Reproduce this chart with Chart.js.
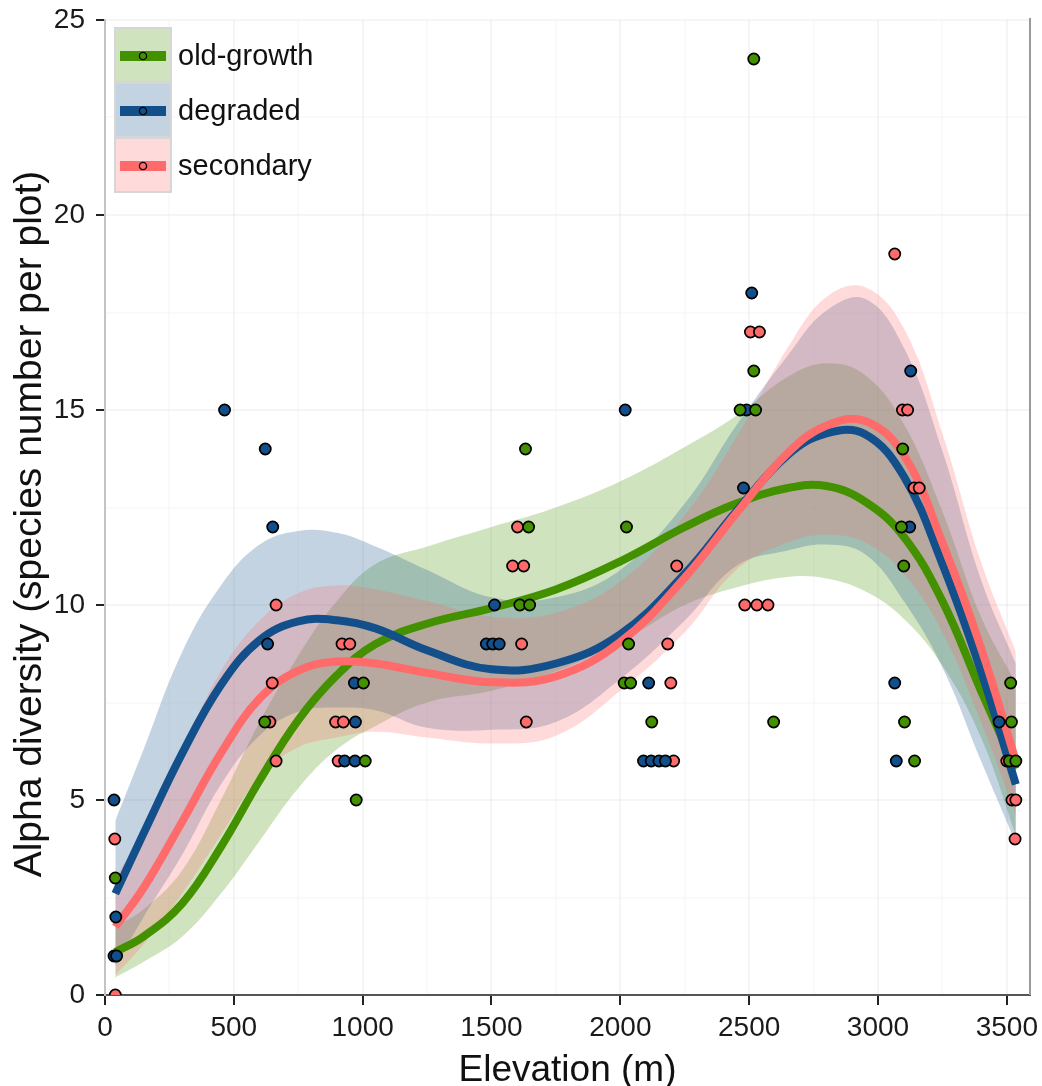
<!DOCTYPE html>
<html>
<head>
<meta charset="utf-8">
<title>Alpha diversity along elevation</title>
<script src="https://cdn.jsdelivr.net/npm/chart.js@4.4.1/dist/chart.umd.min.js"></script>
<style>
  html, body { margin: 0; padding: 0; background: #fff; }
  #wrap { width: 1042px; height: 1086px; }
</style>
</head>
<body>
<div id="wrap"><canvas id="alphaChart" width="1042" height="1086"></canvas></div>
<script>
// Smoothed fits with their confidence bands
const curveX = [40, 150, 300, 450, 600, 750, 900, 1050, 1250, 1500, 1750, 2000, 2250, 2450, 2650, 2800, 2950, 3100, 3250, 3400, 3535];

const oldFit = [1.1, 1.5, 2.35, 3.8, 5.5, 7.05, 8.2, 9.0, 9.52, 9.92, 10.4, 11.12, 12.0, 12.6, 13.0, 13.05, 12.65, 11.75, 10.1, 7.8, 5.8];
const oldLo  = [0.45, 0.85, 1.5, 2.6, 3.95, 5.3, 6.3, 6.9, 7.5, 7.8, 8.3, 9.05, 10.0, 10.45, 10.72, 10.68, 10.35, 9.65, 8.45, 6.6, 4.1];
const oldHi  = [1.75, 2.2, 3.2, 5.0, 7.0, 8.7, 10.1, 11.05, 11.5, 12.0, 12.5, 13.17, 14.05, 14.85, 15.85, 16.2, 15.9, 14.65, 12.4, 9.7, 8.0];

const degFit = [2.6, 4.15, 6.2, 7.95, 9.1, 9.58, 9.61, 9.4, 8.84, 8.35, 8.5, 9.25, 10.8, 12.4, 13.85, 14.4, 14.38, 13.3, 11.05, 8.3, 5.4];
const degLo  = [0.74, 2.0, 3.6, 5.4, 6.65, 7.26, 7.37, 7.3, 6.85, 6.8, 7.0, 8.1, 9.6, 11.0, 11.4, 11.55, 11.3, 10.1, 8.4, 6.0, 3.9];
const degHi  = [4.46, 6.3, 8.8, 10.5, 11.55, 11.9, 11.85, 11.5, 10.9, 10.2, 10.2, 10.9, 12.6, 14.6, 16.4, 17.55, 17.85, 16.6, 13.95, 10.65, 8.5];

const secFit = [1.75, 2.75, 4.45, 6.2, 7.6, 8.32, 8.55, 8.5, 8.26, 8.02, 8.17, 9.05, 10.7, 12.35, 13.9, 14.6, 14.72, 13.85, 11.6, 8.9, 6.0];
const secLo  = [0.5, 1.3, 2.6, 4.1, 5.6, 6.35, 6.6, 6.75, 6.6, 6.45, 6.65, 7.8, 9.3, 10.9, 11.6, 11.8, 11.6, 10.8, 9.3, 7.0, 4.6];
const secHi  = [3.0, 4.2, 6.3, 8.3, 9.6, 10.3, 10.5, 10.4, 10.1, 9.7, 9.8, 10.6, 12.3, 14.3, 16.6, 17.9, 18.15, 17.1, 14.4, 11.1, 8.8];

// Plots (elevation, species number)
const oldX = [40, 620, 1003, 1010, 975, 1632, 1644, 1610, 1648, 2024, 2032, 2015, 2040, 2122, 2595, 2465, 2525, 2518, 2518, 3096, 3091, 3100, 3103, 3142, 3515, 3518, 3510, 3535];
const oldY = [3, 7, 8, 6, 5, 14, 12, 10, 10, 12, 9, 8, 8, 7, 7, 15, 15, 24, 16, 14, 12, 11, 7, 6, 8, 7, 6, 6];

const degX = [35, 42, 35, 45, 464, 622, 651, 631, 968, 972, 930, 970, 1512, 1480, 1505, 1530, 2019, 2478, 2110, 2090, 2120, 2150, 2175, 2490, 2510, 3127, 3123, 3065, 3071, 3470];
const degY = [5, 2, 1, 1, 15, 14, 12, 9, 8, 7, 6, 6, 10, 9, 9, 9, 15, 13, 8, 6, 6, 6, 6, 15, 18, 16, 12, 8, 6, 7];

const secX = [38, 40, 664, 649, 640, 664, 920, 950, 895, 925, 905, 1601, 1582, 1625, 1617, 1635, 2219, 2184, 2196, 2207, 2483, 2530, 2573, 2505, 2540, 3065, 3095, 3115, 3140, 3160, 3500, 3520, 3535, 3532];
const secY = [4, 0, 10, 8, 7, 6, 9, 9, 7, 7, 6, 12, 11, 11, 9, 7, 11, 9, 8, 6, 10, 10, 10, 17, 17, 19, 15, 15, 13, 13, 6, 5, 5, 4];

const seriesNames = ['old-growth', 'degraded', 'secondary'];
const lineColors = ['#449100', '#134f8b', '#ff6b6b'];
const bandColors = ['rgba(68,145,0,0.25)', 'rgba(19,79,139,0.25)', 'rgba(255,107,107,0.25)'];
const FONT = "'Liberation Sans', Arial, sans-serif";

function xy(xs, ys) {
  return xs.map((x, i) => ({ x: x, y: ys[i] }));
}

// ribbon: upper edge filled down to the lower edge (next dataset)
function bandSets(k, lo, hi, order) {
  return [
    { label: seriesNames[k] + ' upper', data: xy(curveX, hi), borderColor: 'rgba(0,0,0,0)', borderWidth: 1,
      pointRadius: 0, fill: '+1', backgroundColor: bandColors[k], tension: 0.4, order: order },
    { label: seriesNames[k] + ' lower', data: xy(curveX, lo), borderColor: 'rgba(0,0,0,0)', borderWidth: 1,
      pointRadius: 0, fill: false, tension: 0.4, order: order }
  ];
}

function fitSet(k, fit, order) {
  return { label: seriesNames[k], data: xy(curveX, fit), borderColor: lineColors[k], borderWidth: 8,
    borderCapStyle: 'butt', pointRadius: 0, fill: false, tension: 0.4, order: order };
}

function pointSet(k, xs, ys) {
  return { label: seriesNames[k] + ' plots', data: xy(xs, ys), showLine: false, pointRadius: 5.6, pointHoverRadius: 5.6,
    pointBackgroundColor: lineColors[k], pointBorderColor: '#000', pointBorderWidth: 1.7, clip: 0, order: 0 };
}

// y title, panel border on the right, legend keys inside the panel
const extras = {
  id: 'extras',
  afterDraw(chart) {
    const ctx = chart.ctx;
    const a = chart.chartArea;
    ctx.save();
    ctx.strokeStyle = '#9a9a9a';
    ctx.lineWidth = 2;
    ctx.beginPath();
    ctx.moveTo(a.right, a.top - 2);
    ctx.lineTo(a.right, a.bottom);
    ctx.stroke();

    ctx.save();
    ctx.translate(30, 524);
    ctx.rotate(-Math.PI / 2);
    ctx.fillStyle = '#111';
    ctx.font = '39px ' + FONT;
    ctx.textAlign = 'center';
    ctx.textBaseline = 'middle';
    ctx.fillText('Alpha diversity (species number per plot)', 0, 0);
    ctx.restore();

    ctx.fillStyle = '#d6d6d6';
    ctx.fillRect(114, 27, 58, 166);
    seriesNames.forEach((name, k) => {
      const top = 29 + k * 55;
      const cy = top + 27;
      ctx.fillStyle = '#fff';
      ctx.fillRect(116, top, 54, 52);
      ctx.fillStyle = bandColors[k];
      ctx.fillRect(116, top, 54, 52);
      ctx.strokeStyle = lineColors[k];
      ctx.lineWidth = 10;
      ctx.lineCap = 'butt';
      ctx.beginPath();
      ctx.moveTo(120, cy);
      ctx.lineTo(166, cy);
      ctx.stroke();
      ctx.beginPath();
      ctx.arc(143, cy, 3.6, 0, Math.PI * 2);
      ctx.fillStyle = lineColors[k];
      ctx.fill();
      ctx.strokeStyle = '#000';
      ctx.lineWidth = 1.3;
      ctx.stroke();
      ctx.fillStyle = '#111';
      ctx.font = '29px ' + FONT;
      ctx.textBaseline = 'middle';
      ctx.textAlign = 'left';
      ctx.fillText(name, 178, cy + 1);
    });
    ctx.restore();
  }
};

// ribbons first, then fitted lines, points on top
const datasets = [].concat(
  bandSets(0, oldLo, oldHi, 8),
  bandSets(1, degLo, degHi, 7),
  bandSets(2, secLo, secHi, 6),
  [fitSet(0, oldFit, 5), fitSet(1, degFit, 4), fitSet(2, secFit, 3)],
  [pointSet(0, oldX, oldY), pointSet(1, degX, degY), pointSet(2, secX, secY)]
);

const alphaChart = new Chart(document.getElementById('alphaChart').getContext('2d'), {
  type: 'line',
  data: { datasets: datasets },
  options: {
    responsive: false,
    animation: false,
    layout: { padding: { top: 20, right: 12, left: 0, bottom: 0 } },
    plugins: {
      legend: { display: false },
      tooltip: { enabled: false }
    },
    scales: {
      x: {
        type: 'linear',
        min: 0,
        max: 3590,
        ticks: {
          stepSize: 250,
          includeBounds: false,
          autoSkip: false,
          maxRotation: 0,
          padding: 6,
          color: '#1a1a1a',
          font: { family: FONT, size: 28 },
          callback: v => (v % 500 === 0 ? String(v) : '')
        },
        grid: {
          color: c => (c.tick && c.tick.value % 500 === 0 ? 'rgba(0,0,0,0.04)' : 'rgba(0,0,0,0.02)'),
          lineWidth: 2,
          tickLength: 10,
          tickWidth: 2,
          tickColor: c => (c.tick && c.tick.value % 500 === 0 ? '#222' : 'rgba(0,0,0,0)')
        },
        border: { display: true, color: '#555', width: 2 },
        title: {
          display: true,
          text: 'Elevation (m)',
          color: '#111',
          font: { family: FONT, size: 37, lineHeight: 1 },
          padding: { top: 0, bottom: -3 }
        },
        afterFit: s => { s.height = 91; s.paddingLeft = 0; s.paddingRight = 0; }
      },
      y: {
        min: 0,
        max: 25,
        ticks: {
          stepSize: 2.5,
          includeBounds: false,
          autoSkip: false,
          padding: 11,
          color: '#1a1a1a',
          font: { family: FONT, size: 28 },
          callback: v => (v % 5 === 0 ? String(v) : '')
        },
        grid: {
          color: c => (c.tick && c.tick.value % 5 === 0 ? 'rgba(0,0,0,0.04)' : 'rgba(0,0,0,0.02)'),
          lineWidth: 2,
          tickLength: 9,
          tickWidth: 2,
          tickColor: c => (c.tick && c.tick.value % 5 === 0 ? '#222' : 'rgba(0,0,0,0)')
        },
        border: { display: true, color: '#c4c4c4', width: 2 },
        afterFit: s => { s.width = 105; s.paddingTop = 0; s.paddingBottom = 0; }
      }
    }
  },
  plugins: [extras]
});
</script>
</body>
</html>
